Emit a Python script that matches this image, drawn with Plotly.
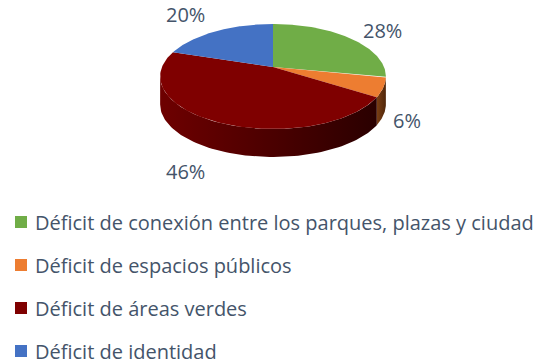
import numpy as np
import plotly.graph_objects as go

# Survey results: share of respondents per identified deficit
categories = [
    "Déficit de conexión entre los parques, plazas y ciudad",
    "Déficit de espacios públicos",
    "Déficit de áreas verdes",
    "Déficit de identidad",
]
values = [28, 6, 46, 20]

top_colors = ["#70AD47", "#ED7D31", "#7F0000", "#4472C4"]
side_colors = [("#4c7a30", "#3a5e24"), ("#7a3e14", "#50260a"),
               ("#6e0000", "#2a0000"), ("#2e4f8a", "#223c6a")]

TEXT = "#44546A"
FONT = "Open Sans"

# Canvas expressed in pixel-like units on hidden axes
W, H = 549, 364
CX, CY = 273, 67          # centre of the top face
RX, RY = 111, 50.8        # disc radii before perspective
K = 0.181                 # perspective strength (far edge shrinks)
DEPTH = 28                # thickness of the disc

# nudges that move each percentage label off its rim point
label_nudge = [(33, -7), (23, 33), (-31, 49.5), (-31, -17)]

# legend block layout
LEG_SWATCH_X, LEG_TEXT_X = 21, 34
LEG_TOP, LEG_STEP = 222, 43


def project(theta, s=1.0):
    """Angle on the disc (0 = 12 o'clock, clockwise) -> screen coords."""
    z = np.cos(theta)
    d = 1 + K * z
    return CX + s * RX * np.sin(theta) / d, CY - s * RY * z / d


fig = go.Figure()

total = float(sum(values))
bounds = np.concatenate([[0], np.cumsum(values)]) / total * 2 * np.pi
vis_lo, vis_hi = np.arccos(-K), 2 * np.pi - np.arccos(-K)

# side walls first, so the top faces sit over them
for i in range(len(values)):
    a, b = max(bounds[i], vis_lo), min(bounds[i + 1], vis_hi)
    if b <= a:
        continue
    t = np.linspace(a, b, 80)
    x, y = project(t)
    xs = np.concatenate([x, x[::-1], x[:1]])
    ys = np.concatenate([y, y[::-1] + DEPTH, y[:1]])
    c1, c2 = side_colors[i]
    fig.add_trace(go.Scatter(
        x=xs, y=ys, mode="lines", fill="toself",
        line=dict(width=0, color=c2),
        fillgradient=dict(type="horizontal",
                          colorscale=[[0, c1], [1, c2]]),
        hoverinfo="skip", showlegend=False))

# top faces
for i in range(len(values)):
    t = np.linspace(bounds[i], bounds[i + 1], 120)
    x, y = project(t)
    xs = np.concatenate([[CX], x, [CX]])
    ys = np.concatenate([[CY], y, [CY]])
    fig.add_trace(go.Scatter(
        x=xs, y=ys, mode="lines", fill="toself",
        fillcolor=top_colors[i], line=dict(width=0, color=top_colors[i]),
        hovertemplate=f"{categories[i]}: {values[i]}%<extra></extra>",
        showlegend=False))

# percentage labels
for i, v in enumerate(values):
    mid = (bounds[i] + bounds[i + 1]) / 2
    x, y = project(mid)
    dx, dy = label_nudge[i]
    fig.add_annotation(x=x + dx, y=y + dy, text=f"{v / total * 100:.0f}%",
                       showarrow=False, xanchor="center", yanchor="middle",
                       font=dict(family=FONT, size=20, color=TEXT))

# legend: coloured swatches plus category names
rows = [LEG_TOP + i * LEG_STEP for i in range(len(categories))]
fig.add_trace(go.Scatter(
    x=[LEG_SWATCH_X] * len(categories), y=rows, mode="markers",
    marker=dict(symbol="square", size=12, color=top_colors,
                line=dict(width=0)),
    hoverinfo="skip", showlegend=False))
for name, y in zip(categories, rows):
    fig.add_annotation(x=LEG_TEXT_X, y=y, text=name, showarrow=False,
                       xanchor="left", yanchor="middle", borderpad=0,
                       font=dict(family=FONT, size=20, color=TEXT))

fig.update_layout(
    width=W, height=H,
    margin=dict(l=0, r=0, t=0, b=0),
    paper_bgcolor="white", plot_bgcolor="white",
    xaxis=dict(range=[0, W], visible=False, fixedrange=True),
    yaxis=dict(range=[H, 0], visible=False, fixedrange=True),
    showlegend=False,
)

fig.write_html("out.html")
